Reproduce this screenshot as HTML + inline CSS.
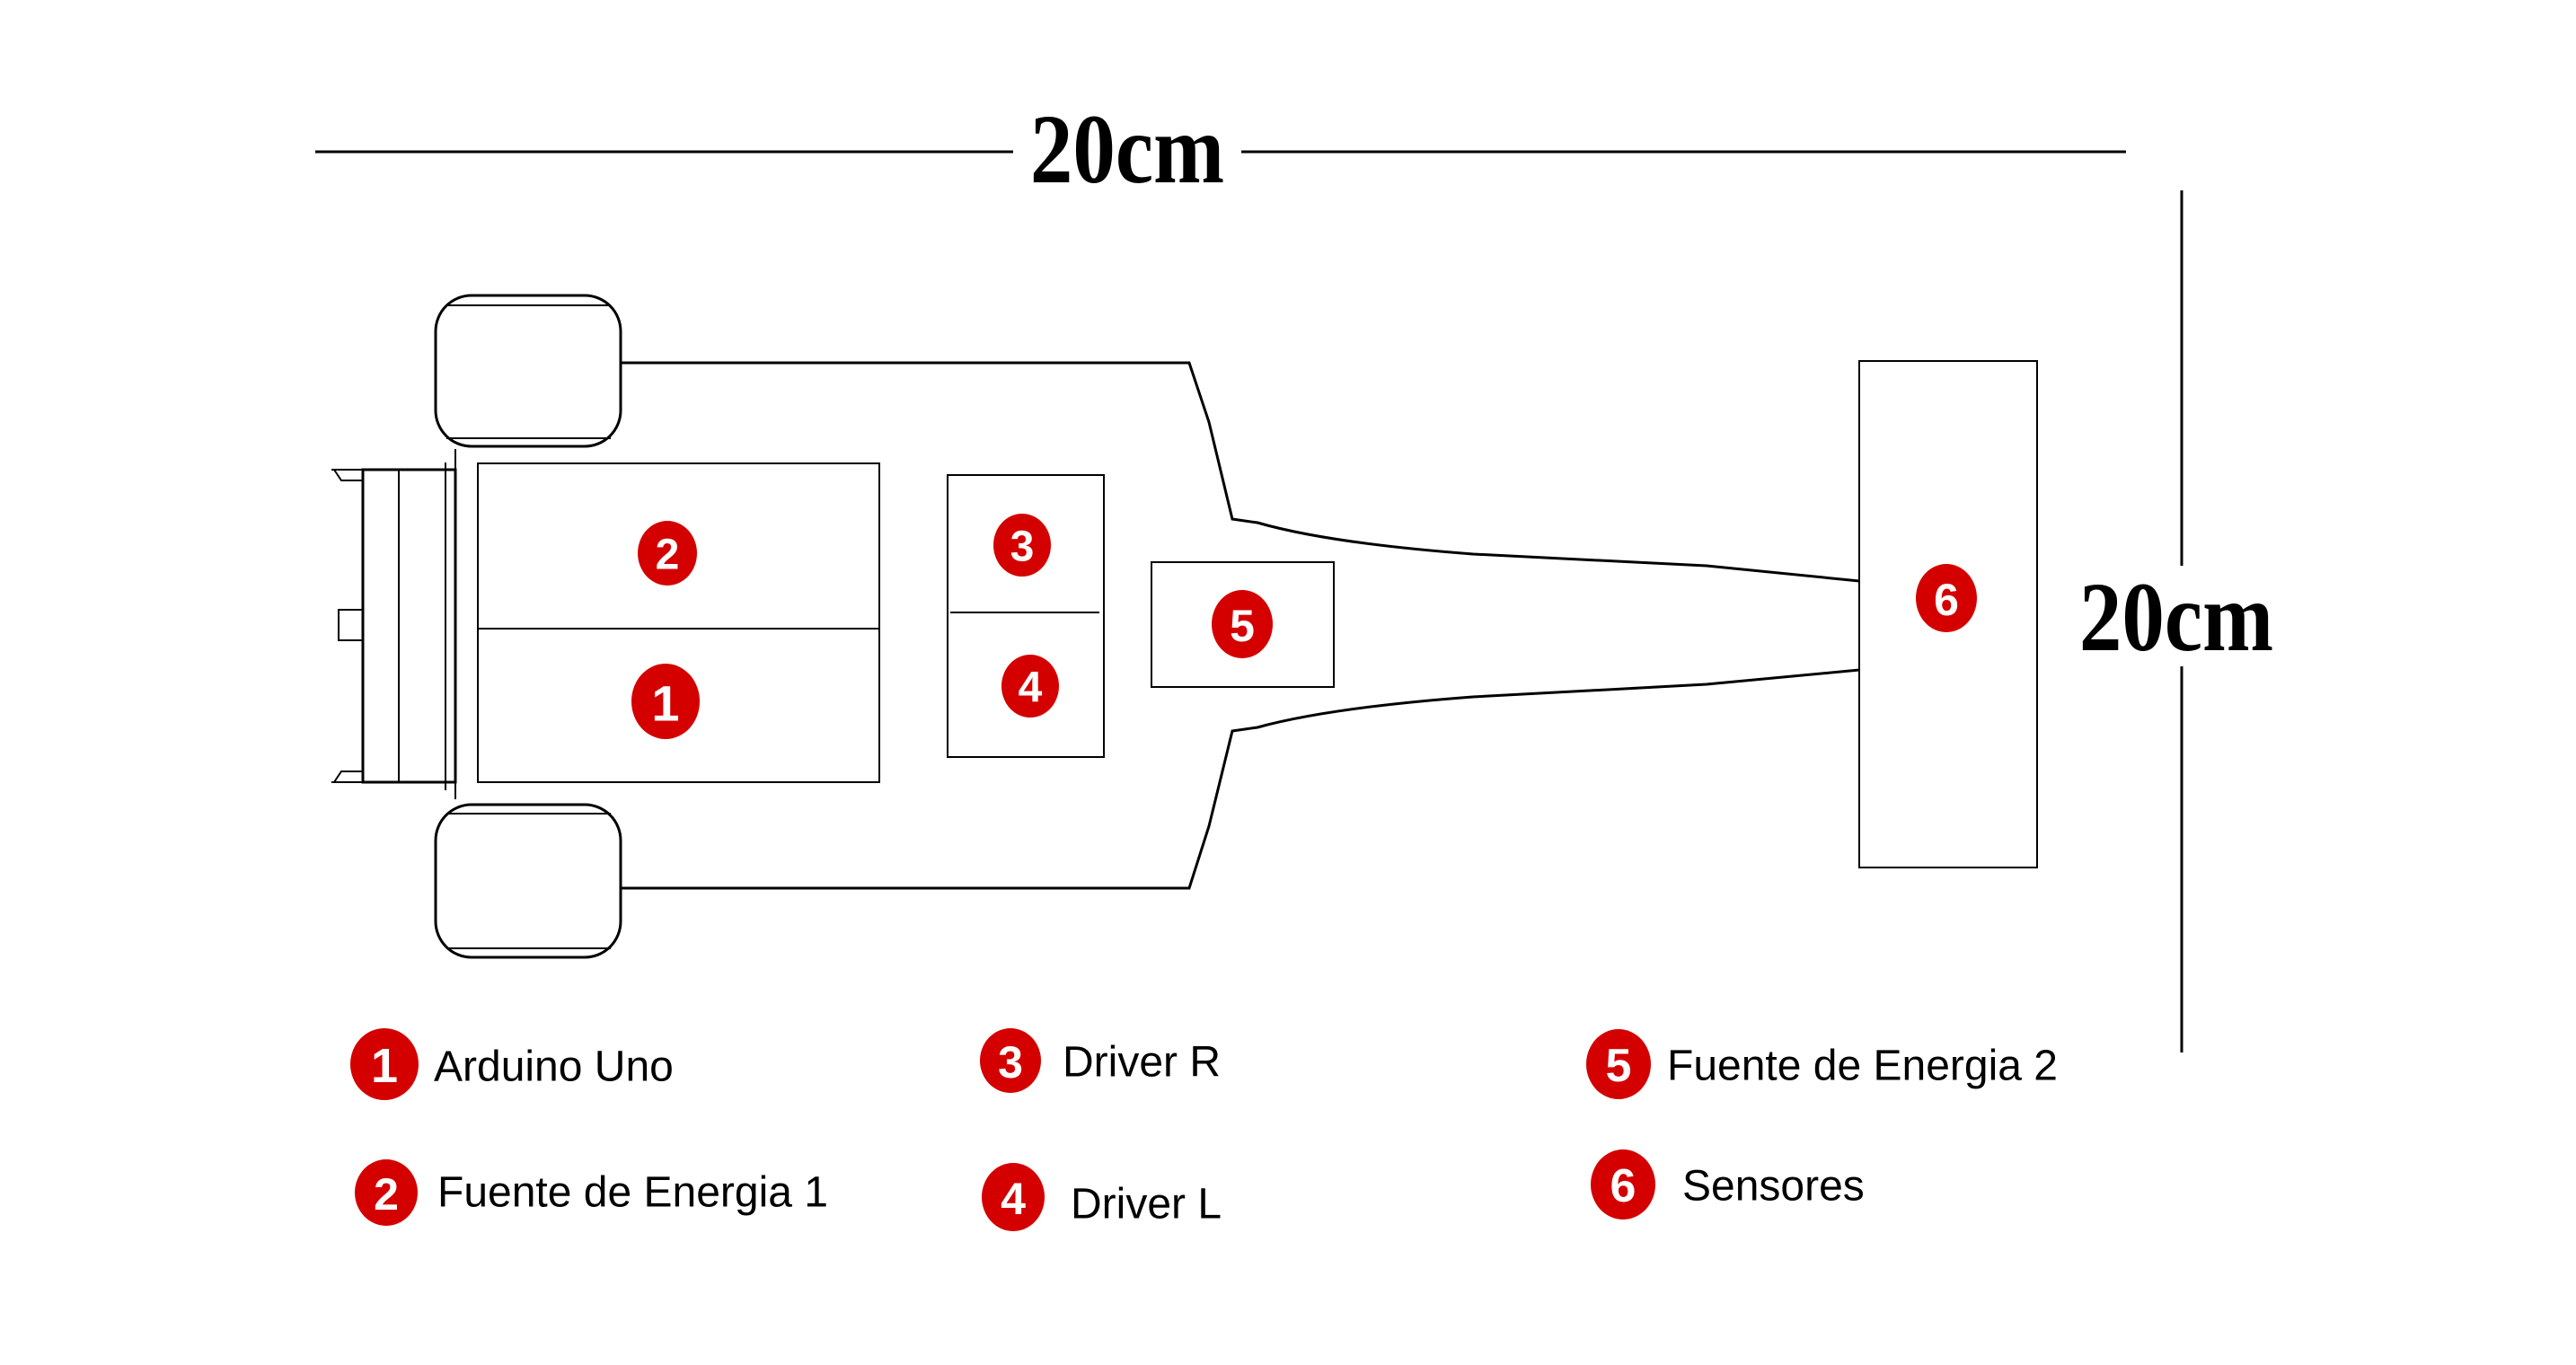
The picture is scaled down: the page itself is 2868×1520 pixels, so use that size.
<!DOCTYPE html>
<html><head><meta charset="utf-8"><style>
html,body{margin:0;padding:0;background:#fff;}
svg{display:block}
.ln{stroke:#000;fill:none;stroke-width:3}
.th{stroke:#000;fill:none;stroke-width:2}
.num{font-family:"Liberation Sans",sans-serif;font-weight:bold;fill:#fff;text-anchor:middle;dominant-baseline:central}
.lab{font-family:"Liberation Sans","DejaVu Sans",sans-serif;font-size:48px;fill:#000;dominant-baseline:central}
.dim{font-family:"Liberation Serif",serif;font-weight:bold;font-size:100px;fill:#000}
</style></head><body>
<svg width="2868" height="1520" viewBox="0 0 2868 1520">
<rect width="2868" height="1520" fill="#fff"/>
<g>
<line x1="351" y1="169" x2="1128" y2="169" class="ln"/>
<line x1="1382" y1="169" x2="2367" y2="169" class="ln"/>
<text x="0" y="0" transform="translate(1255,203) scale(0.95,1.1)" text-anchor="middle" class="dim">20cm</text>
</g>
<g>
<line x1="2429" y1="212" x2="2429" y2="630" class="ln"/>
<line x1="2429" y1="742" x2="2429" y2="1172" class="ln"/>
<text x="0" y="0" transform="translate(2423,724) scale(0.95,1.1)" text-anchor="middle" class="dim">20cm</text>
</g>
<g>
<path d="M691 404 L1324 404 L1346 470 L1372 578 L1400 582 Q1480 605 1640 617 L1900 630 L2070 647" class="ln"/>
<path d="M691 989 L1324 989 L1346 920 L1372 814 L1400 810 Q1480 788 1640 776 L1900 762 L2070 746" class="ln"/>
<line x1="507" y1="500" x2="507" y2="890" class="th"/>
</g>
<g>
<rect x="404" y="523" width="103" height="348" class="ln" fill="#fff"/>
<line x1="444" y1="523" x2="444" y2="871" class="th"/>
<line x1="496" y1="515" x2="496" y2="880" class="th"/>
<rect x="377" y="679" width="27" height="34" class="th"/>
<path d="M369 523 L404 523 M372 523 L380 535 L404 535 M369 871 L404 871 M372 871 L380 859 L404 859" class="th"/>
</g>
<g>
<rect x="485" y="329" width="206" height="168" rx="40" fill="#fff" class="ln"/>
<line x1="497" y1="488" x2="680" y2="488" class="th"/>
<line x1="497" y1="340" x2="680" y2="340" class="th"/>
</g>
<g>
<rect x="485" y="896" width="206" height="170" rx="40" fill="#fff" class="ln"/>
<line x1="497" y1="906" x2="680" y2="906" class="th"/>
<line x1="497" y1="1056" x2="680" y2="1056" class="th"/>
</g>
<g>
<rect x="532" y="516" width="447" height="355" fill="#fff" class="th"/>
<line x1="532" y1="700" x2="979" y2="700" class="th"/>
</g>
<g>
<rect x="1055" y="529" width="174" height="314" fill="#fff" class="th"/>
<line x1="1058" y1="682" x2="1224" y2="682" class="th"/>
</g>
<rect x="1282" y="626" width="203" height="139" fill="#fff" class="th"/>
<rect x="2070" y="402" width="198" height="564" fill="#fff" class="th"/>
<g><ellipse cx="743" cy="616" rx="33" ry="36" fill="#d40000"/><text x="743" y="618" class="num" font-size="48">2</text></g>
<g><ellipse cx="741" cy="781" rx="38" ry="42" fill="#d40000"/><text x="741" y="783" class="num" font-size="56">1</text></g>
<g><ellipse cx="1138" cy="607" rx="32" ry="35" fill="#d40000"/><text x="1138" y="609" class="num" font-size="48">3</text></g>
<g><ellipse cx="1147" cy="764" rx="32" ry="35" fill="#d40000"/><text x="1147" y="766" class="num" font-size="48">4</text></g>
<g><ellipse cx="1383" cy="695" rx="34" ry="38" fill="#d40000"/><text x="1383" y="697" class="num" font-size="50">5</text></g>
<g><ellipse cx="2167" cy="666" rx="34" ry="38" fill="#d40000"/><text x="2167" y="668" class="num" font-size="50">6</text></g>
<g>
<g><ellipse cx="428" cy="1185" rx="38" ry="40" fill="#d40000"/><text x="428" y="1187" class="num" font-size="54">1</text><text x="483" y="1188" class="lab">Arduino Uno</text></g>
<g><ellipse cx="1125" cy="1181" rx="34" ry="36" fill="#d40000"/><text x="1125" y="1183" class="num" font-size="50">3</text><text x="1183" y="1183" class="lab">Driver R</text></g>
<g><ellipse cx="1802" cy="1185" rx="36" ry="39" fill="#d40000"/><text x="1802" y="1187" class="num" font-size="52">5</text><text x="1856" y="1187" class="lab">Fuente de Energia 2</text></g>
<g><ellipse cx="430" cy="1328" rx="35" ry="37" fill="#d40000"/><text x="430" y="1330" class="num" font-size="50">2</text><text x="487" y="1328" class="lab">Fuente de Energia 1</text></g>
<g><ellipse cx="1128" cy="1333" rx="35" ry="38" fill="#d40000"/><text x="1128" y="1335" class="num" font-size="50">4</text><text x="1192" y="1341" class="lab">Driver L</text></g>
<g><ellipse cx="1807" cy="1319" rx="36" ry="39" fill="#d40000"/><text x="1807" y="1321" class="num" font-size="52">6</text><text x="1873" y="1321" class="lab">Sensores</text></g>
</g>
</svg>
</body></html>
